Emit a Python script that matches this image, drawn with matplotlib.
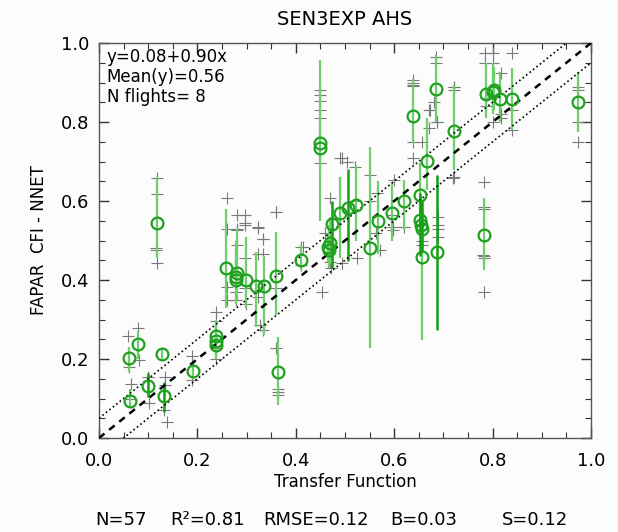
import matplotlib
matplotlib.use("Agg")
import matplotlib.pyplot as plt
import numpy as np
from matplotlib.ticker import MultipleLocator

# site means (circles) with min/max range (vertical bars)
circ_x = [0.060, 0.064, 0.080, 0.100, 0.117, 0.129, 0.133, 0.191, 0.237, 0.237,
          0.259, 0.281, 0.278, 0.298, 0.320, 0.335, 0.359, 0.363, 0.410, 0.449,
          0.449, 0.473, 0.470, 0.466, 0.490, 0.507, 0.522, 0.551, 0.568, 0.596,
          0.620, 0.639, 0.652, 0.652, 0.656, 0.657, 0.667, 0.685, 0.688, 0.722,
          0.782, 0.787, 0.803, 0.815, 0.840, 0.974, 0.468, 0.654, 0.279, 0.237,
          0.800]
circ_y = [0.202, 0.094, 0.237, 0.132, 0.545, 0.212, 0.107, 0.170, 0.258, 0.235,
          0.430, 0.417, 0.400, 0.400, 0.385, 0.385, 0.411, 0.168, 0.450, 0.746,
          0.735, 0.543, 0.493, 0.484, 0.569, 0.582, 0.590, 0.482, 0.549, 0.570,
          0.601, 0.815, 0.615, 0.552, 0.529, 0.459, 0.702, 0.883, 0.472, 0.777,
          0.514, 0.872, 0.881, 0.858, 0.858, 0.850, 0.475, 0.540, 0.408, 0.245,
          0.875]
err_lo = [0.168, 0.075, 0.200, 0.104, 0.455, 0.195, 0.067, 0.150, 0.210, 0.205,
          0.330, 0.350, 0.340, 0.330, 0.282, 0.260, 0.311, 0.083, 0.425, 0.550,
          0.690, 0.430, 0.440, 0.446, 0.455, 0.447, 0.500, 0.227, 0.467, 0.500,
          0.527, 0.746, 0.540, 0.460, 0.470, 0.248, 0.628, 0.800, 0.273, 0.678,
          0.425, 0.810, 0.830, 0.800, 0.780, 0.775, 0.430, 0.480, 0.350, 0.200,
          0.820]
err_hi = [0.230, 0.125, 0.270, 0.165, 0.660, 0.228, 0.142, 0.190, 0.290, 0.280,
          0.580, 0.530, 0.500, 0.510, 0.472, 0.460, 0.522, 0.256, 0.488, 0.957,
          0.800, 0.600, 0.560, 0.520, 0.660, 0.680, 0.690, 0.737, 0.650, 0.649,
          0.653, 0.910, 0.696, 0.620, 0.600, 0.540, 0.810, 0.970, 0.666, 0.894,
          0.607, 0.950, 0.940, 0.927, 0.936, 0.927, 0.540, 0.610, 0.480, 0.300,
          0.950]
dark = [0, 0, 0, 1, 0, 0, 1, 0, 0, 0,
        0, 0, 0, 0, 0, 0, 0, 0, 0, 0,
        0, 1, 0, 0, 0, 1, 0, 0, 0, 0,
        0, 0, 0, 1, 1, 0, 0, 0, 1, 0,
        0, 0, 0, 0, 0, 0, 0, 0, 0, 0,
        0]

# individual pixels (gray crosses)
cross_x = [0.058, 0.060, 0.080, 0.081, 0.066, 0.064, 0.100, 0.102, 0.115, 0.118,
           0.116, 0.117, 0.117, 0.135, 0.135, 0.139, 0.133, 0.190, 0.190, 0.237,
           0.237, 0.237, 0.237, 0.260, 0.260, 0.281, 0.278, 0.278, 0.298, 0.280,
           0.297, 0.297, 0.324, 0.334, 0.324, 0.334, 0.297, 0.297, 0.324, 0.327,
           0.334, 0.359, 0.359, 0.359, 0.364, 0.364, 0.364, 0.410, 0.410, 0.453,
           0.460, 0.470, 0.472, 0.493, 0.524, 0.520, 0.550, 0.564, 0.571, 0.639,
           0.639, 0.639, 0.656, 0.673, 0.686, 0.680, 0.722, 0.722, 0.720, 0.639,
           0.600, 0.595, 0.598, 0.619, 0.690, 0.690, 0.690, 0.690, 0.783, 0.783,
           0.781, 0.783, 0.783, 0.783, 0.783, 0.657, 0.657, 0.785, 0.800, 0.840,
           0.785, 0.800, 0.818, 0.685, 0.685, 0.639, 0.639, 0.670, 0.670, 0.686,
           0.722, 0.722, 0.973, 0.973, 0.974, 0.974, 0.490, 0.505, 0.520, 0.551,
           0.565, 0.597, 0.786, 0.786, 0.840, 0.840, 0.818, 0.800, 0.818, 0.260,
           0.280, 0.297, 0.260, 0.280, 0.324, 0.334, 0.360, 0.493, 0.449, 0.449,
           0.449, 0.449, 0.449, 0.449, 0.470, 0.415]
cross_y = [0.258, 0.180, 0.278, 0.197, 0.137, 0.100, 0.155, 0.089, 0.476, 0.442,
           0.482, 0.657, 0.618, 0.155, 0.135, 0.041, 0.070, 0.207, 0.147, 0.320,
           0.297, 0.228, 0.200, 0.383, 0.350, 0.489, 0.370, 0.350, 0.340, 0.527,
           0.565, 0.540, 0.535, 0.505, 0.466, 0.466, 0.455, 0.380, 0.358, 0.286,
           0.273, 0.573, 0.380, 0.227, 0.117, 0.110, 0.125, 0.484, 0.438, 0.370,
           0.520, 0.446, 0.430, 0.442, 0.455, 0.600, 0.600, 0.518, 0.476, 0.898,
           0.890, 0.750, 0.750, 0.830, 0.800, 0.850, 0.889, 0.880, 0.657, 0.708,
           0.653, 0.565, 0.527, 0.535, 0.560, 0.530, 0.510, 0.540, 0.649, 0.586,
           0.463, 0.455, 0.581, 0.460, 0.370, 0.489, 0.500, 0.974, 0.974, 0.974,
           0.949, 0.949, 0.923, 0.965, 0.949, 0.906, 0.894, 0.830, 0.784, 0.800,
           0.662, 0.889, 0.889, 0.881, 0.750, 0.800, 0.708, 0.700, 0.687, 0.666,
           0.620, 0.535, 0.860, 0.840, 0.830, 0.780, 0.820, 0.800, 0.809, 0.607,
           0.565, 0.545, 0.530, 0.530, 0.531, 0.505, 0.573, 0.708, 0.881, 0.869,
           0.852, 0.831, 0.810, 0.695, 0.607, 0.484]

fit_text = ["y=0.08+0.90x", "Mean(y)=0.56", "N flights= 8"]
stats = [("N=57", 95), ("R\u00b2=0.81", 170), ("RMSE=0.12", 263),
         ("B=0.03", 390), ("S=0.12", 502)]
band = 0.05

plt.rcParams["font.family"] = ["DejaVu Sans"]

fig = plt.figure(figsize=(6.18, 5.32), dpi=100, facecolor="#fcfcfc")
ax = fig.add_axes([99 / 618, 94 / 532, 492 / 618, 395 / 532])
ax.set_facecolor("#fcfcfc")

ax.scatter(cross_x, cross_y, marker="+", s=70, color="#7a7a7a", linewidths=0.8, zorder=2)

bar_lo = np.array(err_lo)
bar_hi = np.array(err_hi)
is_dark = np.array(dark, dtype=bool)
cx = np.array(circ_x)
ax.vlines(cx[~is_dark], bar_lo[~is_dark], bar_hi[~is_dark], color="#6fcf6f", lw=1.6, zorder=3)
ax.vlines(cx[is_dark], bar_lo[is_dark], bar_hi[is_dark], color="#10a010", lw=1.8, zorder=3)

xx = np.array([0.0, 1.0])
ax.plot(xx, xx, color="black", lw=1.8, dashes=(2.8, 2.4), zorder=4)
ax.plot(xx, xx + band, color="black", lw=1.2, ls=":", zorder=4)
ax.plot(xx, xx - band, color="black", lw=1.2, ls=":", zorder=4)

ax.plot(circ_x, circ_y, "o", ms=8.5, mfc="none", mec="#1fa01f", mew=1.6, zorder=5)

ax.set_xlim(0, 1)
ax.set_ylim(0, 1)
ax.xaxis.set_major_locator(MultipleLocator(0.2))
ax.yaxis.set_major_locator(MultipleLocator(0.2))
ax.xaxis.set_minor_locator(MultipleLocator(0.05))
ax.yaxis.set_minor_locator(MultipleLocator(0.05))
ax.xaxis.set_major_formatter(lambda v, p: f"{v:.1f}")
ax.yaxis.set_major_formatter(lambda v, p: f"{v:.1f}")
ax.tick_params(which="both", direction="in", top=True, right=True, color="#333333")
ax.tick_params(which="major", length=7, width=1.0, labelsize=13)
ax.tick_params(axis="x", which="major", pad=10)
ax.tick_params(axis="y", which="major", pad=7)
ax.tick_params(which="minor", length=4, width=0.8)
for sp in ax.spines.values():
    sp.set_color("#555555")
    sp.set_linewidth(1.0)

ax.set_title("SEN3EXP AHS", fontsize=14, pad=13)
ax.set_xlabel("Transfer Function", fontsize=12, labelpad=2)
ax.set_ylabel("FAPAR  CFI - NNET", fontsize=12, labelpad=9)

for i, line in enumerate(fit_text):
    ax.text(0.016, 0.988 - i * 0.051, line, transform=ax.transAxes,
            fontsize=12, va="top", ha="left")

for label, px in stats:
    fig.text(px / 618, 1 - 520 / 532, label, fontsize=13, va="center", ha="left")

fig.savefig("out.png", dpi=100, facecolor=fig.get_facecolor())
